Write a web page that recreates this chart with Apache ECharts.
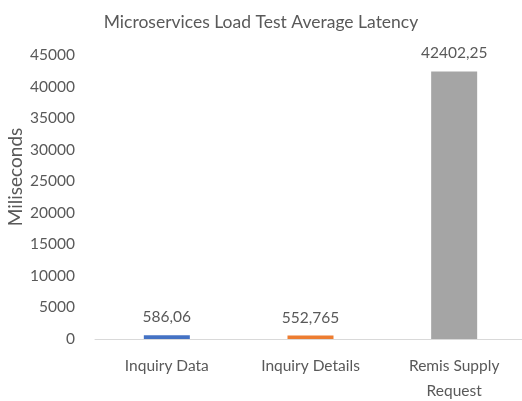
<!DOCTYPE html>
<html>
<head>
<meta charset="utf-8">
<script src="https://cdn.jsdelivr.net/npm/echarts@6/dist/echarts.min.js"></script>
<style>
  html, body { margin: 0; padding: 0; background: #fff; }
  #chart { width: 522px; height: 401px; }
</style>
</head>
<body>
<div id="chart"></div>
<script>
// Average latency per microservice endpoint (ms)
const categories = ['Inquiry Data', 'Inquiry Details', 'Remis Supply\nRequest'];
const latencyMs = [586.06, 552.765, 42402.25];
const barColors = ['#4472C4', '#ED7D31', '#A5A5A5'];
const yTicks = { min: 0, max: 45000, interval: 5000 };

const FONT = 'Lato, "Open Sans", sans-serif';
const TEXT = '#595959';

const chart = echarts.init(document.getElementById('chart'), null, { renderer: 'canvas' });

chart.setOption({
  animation: false,
  textStyle: { fontFamily: FONT },
  title: {
    text: 'Microservices Load Test Average Latency',
    left: 'center',
    top: 8,
    textStyle: { fontFamily: FONT, fontSize: 17.5, fontWeight: 'normal', color: TEXT }
  },
  grid: {
    left: 95, right: -4, top: 55, bottom: 62,
    containLabel: false,
    outerBoundsMode: 'none'
  },
  xAxis: {
    type: 'category',
    data: categories,
    axisLine: { lineStyle: { color: '#D9D9D9', width: 1 } },
    axisTick: { show: false },
    axisLabel: { color: TEXT, fontSize: 15.5, fontFamily: FONT, margin: 14, lineHeight: 25 }
  },
  yAxis: {
    type: 'value',
    min: yTicks.min,
    max: yTicks.max,
    interval: yTicks.interval,
    name: 'Miliseconds',
    nameLocation: 'middle',
    nameGap: 70,
    nameMoveOverlap: false,
    nameRotate: 90,
    nameTextStyle: { color: TEXT, fontSize: 19, fontFamily: FONT, padding: [0, 0, 0, 40] },
    axisLine: { show: false },
    axisTick: { show: false },
    splitLine: { show: false },
    axisLabel: { color: TEXT, fontSize: 15.5, fontFamily: FONT, margin: 20, formatter: v => String(v) }
  },
  series: [{
    type: 'bar',
    data: latencyMs.map((v, i) => ({ value: v, itemStyle: { color: barColors[i] } })),
    barWidth: 46,
    label: {
      show: true,
      position: 'top',
      distance: 10,
      color: TEXT,
      fontSize: 15.5,
      fontFamily: FONT,
      formatter: p => String(p.value).replace('.', ',')
    }
  }]
});
</script>
</body>
</html>
